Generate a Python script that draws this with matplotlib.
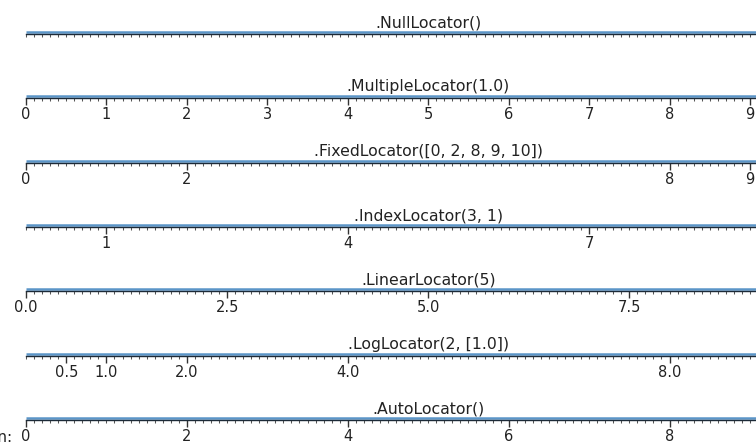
import matplotlib
matplotlib.use("Agg")
import matplotlib.pyplot as plt
from matplotlib import ticker

# titles of the rows, top to bottom
titles = [".NullLocator()", ".MultipleLocator(1.0)", ".FixedLocator([0, 2, 8, 9, 10])",
          ".IndexLocator(3, 1)", ".LinearLocator(5)", ".LogLocator(2, [1.0])", ".AutoLocator()"]

# major tick positions and labels
tick_pos = [
    [],
    [0, 1, 2, 3, 4, 5, 6, 7, 8, 9, 10],
    [0, 2, 8, 9, 10],
    [1, 4, 7, 10],
    [0, 2.5, 5, 7.5, 10],
    [0.5, 1, 2, 4, 8],
    [0, 2, 4, 6, 8, 10],
]
tick_lab = [
    [],
    ["0", "1", "2", "3", "4", "5", "6", "7", "8", "9", "10"],
    ["0", "2", "8", "9", "10"],
    ["1", "4", "7", "10"],
    ["0.0", "2.5", "5.0", "7.5", "10.0"],
    ["0.5", "1.0", "2.0", "4.0", "8.0"],
    ["0", "2", "4", "6", "8", "10"],
]
xmin, xmax = 0, 10
minor_step = 0.1

W, H = 756, 444
fig = plt.figure(figsize=(W / 100, H / 100), dpi=100)

x0 = 26          # px of x=0
px_per_unit = 80.44
line_y = [34, 98.3, 162.7, 227, 291.3, 355.7, 420]
ax_h = 2         # px

for i, title in enumerate(titles):
    left = x0 / W
    width = px_per_unit * (xmax - xmin) / W
    bottom = 1 - line_y[i] / H
    ax = fig.add_axes([left, bottom, width, ax_h / H])
    ax.set_xlim(xmin, xmax)
    ax.set_ylim(0, 1)
    ax.patch.set_alpha(0)
    for s in ["left", "right", "top"]:
        ax.spines[s].set_visible(False)
    ax.spines["bottom"].set_color("#1c2a38")
    ax.spines["bottom"].set_linewidth(1.0)
    ax.yaxis.set_major_locator(ticker.NullLocator())
    ax.xaxis.set_major_locator(ticker.FixedLocator(tick_pos[i]))
    ax.xaxis.set_major_formatter(ticker.FixedFormatter(tick_lab[i]))
    ax.xaxis.set_minor_locator(ticker.MultipleLocator(minor_step))
    ax.tick_params(which="major", length=5, width=1.0, color="#333333",
                   labelsize=10.5, labelcolor="#222222", pad=1.5)
    ax.tick_params(which="minor", length=2.5, width=0.75, color="#555555")
    # light blue line riding on the spine
    ax.plot([xmin, xmax], [0.9, 0.9], color="#5b95c8", lw=1.8, clip_on=False,
            solid_capstyle="butt")
    ax.set_title(title, fontsize=11.3, color="#222222", pad=3.5)

fig.text(12 / W, 1 - 437 / H, "Locators in action:", ha="right", va="center",
         fontsize=11, color="#222222")

fig.savefig("out.png", dpi=100)
